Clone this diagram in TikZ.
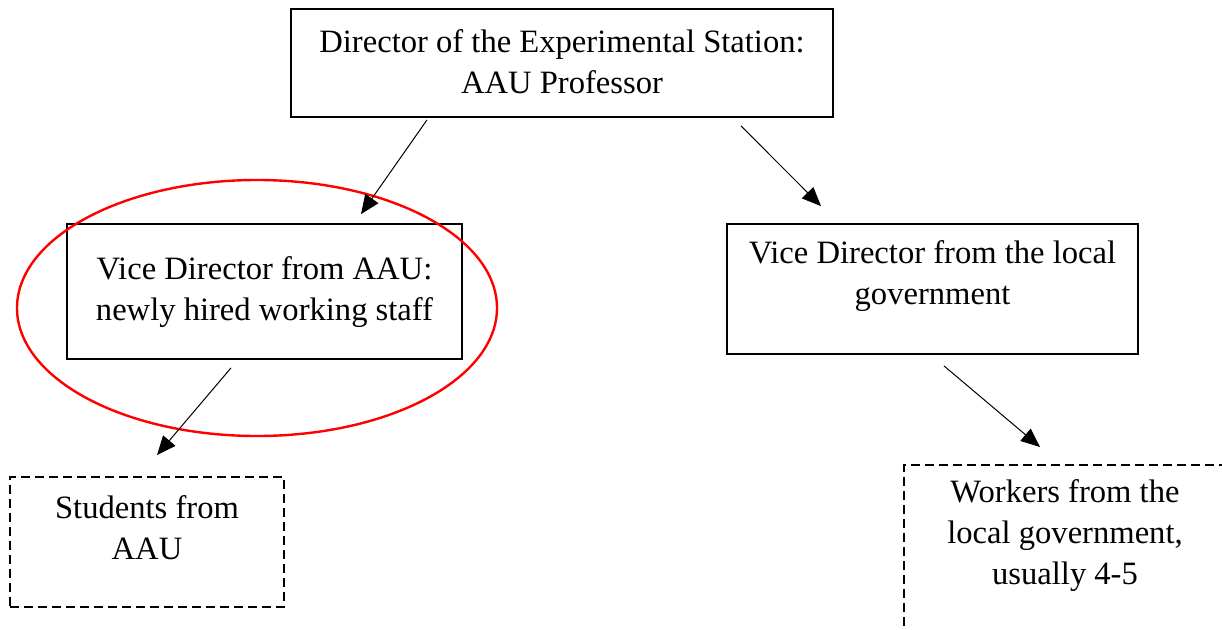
\documentclass[tikz,border=0pt]{standalone}
\usepackage{fontspec}
\setmainfont{Liberation Serif}
\usetikzlibrary{arrows.meta,calc}

\tikzset{
  solidbox/.style={draw=black, line width=1.8pt, rectangle, inner sep=0pt},
  dashbox/.style={draw=black, line width=1.8pt, rectangle, inner sep=0pt,
                  dash pattern=on 9pt off 5pt},
  label text/.style={align=center, inner sep=0pt,
                     font=\fontsize{32.6}{41}\selectfont},
  link/.style={draw=black, line width=1pt,
               -{Triangle[length=19pt, width=16pt]}},
  halo/.style={draw=red, line width=2.4pt}
}

\begin{document}
\begin{tikzpicture}[x=1pt, y=-1pt]
  \clip (0,0) rectangle (1222,629);
  \fill[white] (0,0) rectangle (1222,629);

  % boxes
  \node[solidbox, minimum width=542pt, minimum height=108pt] (dir) at (562,63) {};
  \node[solidbox, minimum width=395pt, minimum height=135pt] (vaau) at (264.5,291.5) {};
  \node[solidbox, minimum width=411pt, minimum height=130pt] (vgov) at (932.5,289) {};
  \node[dashbox, minimum width=274pt, minimum height=130pt] (stud) at (147,542) {};
  \node[dashbox, minimum width=360pt, minimum height=220pt, anchor=north west] (work) at (903,464) {};

  % texts
  \node[label text] (dirtxt) at (562,62) {Director of the Experimental Station:\\AAU Professor};
  \node[label text] (vaautxt) at (264.5,292) {Vice Director from AAU:\\newly hired working staff};
  \node[label text] (vgovtxt) at (932.5,276) {Vice Director from the local\\government};
  \node[label text] (studtxt) at (147,528) {Students from\\AAU};
  \node[label text] (worktxt) at (1065,536) {Workers from the\\local government,\\usually 4-5};

  % red highlight round the AAU vice director
  \draw[halo] (257,308) ellipse [x radius=240pt, y radius=128pt];

  % reporting lines
  \draw[link] ([xshift=-135pt, yshift=-2pt]dir.south) -- ([xshift=96.5pt, yshift=9pt]vaau.north);
  \draw[link] ([xshift=179pt, yshift=-8pt]dir.south) -- ([xshift=-111.5pt, yshift=17pt]vgov.north);
  \draw[link] ([xshift=-33.5pt, yshift=-8pt]vaau.south) -- ([xshift=10pt, yshift=21pt]stud.north);
  \draw[link] ([xshift=11.5pt, yshift=-11pt]vgov.south) -- ([xshift=137pt, yshift=17pt]work.north west);
\end{tikzpicture}
\end{document}
